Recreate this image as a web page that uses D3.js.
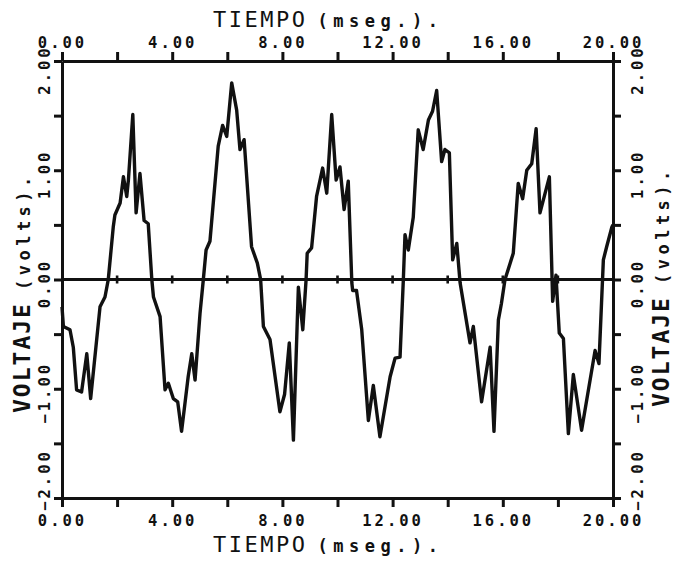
<!DOCTYPE html>
<html>
<head>
<meta charset="utf-8">
<script src="https://cdn.jsdelivr.net/npm/d3@7"></script>
<style>
  body { margin: 0; background: #fff; }
  svg { display: block; }
  text { font-family: "DejaVu Sans Mono", monospace; fill: #111; }
</style>
</head>
<body>
<svg id="chart" width="673" height="561"></svg>
<script>
// tiempo (ms) / voltaje (V)
const tiempo = [0, 0.05, 0.29, 0.41, 0.53, 0.71, 0.90, 1.04, 1.38, 1.56, 1.68, 1.86, 1.92, 2.11, 2.23, 2.35, 2.41, 2.57, 2.69, 2.83,
  2.98, 3.13, 3.26, 3.32, 3.56, 3.74, 3.86, 4.04, 4.20, 4.34, 4.58, 4.71, 4.83, 5.01, 5.13, 5.23, 5.37, 5.67, 5.83, 5.98,
  6.16, 6.34, 6.46, 6.61, 6.88, 7.09, 7.21, 7.31, 7.55, 7.91, 8.08, 8.25, 8.40, 8.58, 8.74, 8.86, 8.90, 9.06, 9.24, 9.46,
  9.61, 9.79, 9.95, 10.09, 10.24, 10.39, 10.52, 10.55, 10.69, 10.88, 11.12, 11.30, 11.54, 11.91, 12.09, 12.27, 12.39, 12.45, 12.57, 12.75,
  12.93, 13.11, 13.30, 13.45, 13.60, 13.78, 13.90, 14.06, 14.18, 14.33, 14.45, 14.81, 14.93, 15.23, 15.54, 15.68, 15.84, 15.95, 16.08, 16.38,
  16.56, 16.72, 16.87, 17.05, 17.21, 17.35, 17.69, 17.81, 17.93, 18.05, 18.20, 18.38, 18.56, 18.86, 19.35, 19.49, 19.65, 19.77, 19.96, 20];
const voltaje = [-0.25, -0.43, -0.46, -0.62, -1.01, -1.03, -0.68, -1.09, -0.25, -0.16, 0, 0.48, 0.59, 0.70, 0.94, 0.76, 0.91, 1.51, 0.61, 0.97,
  0.54, 0.51, 0, -0.16, -0.34, -1.01, -0.95, -1.09, -1.12, -1.39, -0.89, -0.68, -0.92, -0.31, 0, 0.27, 0.35, 1.22, 1.41, 1.31,
  1.80, 1.55, 1.19, 1.28, 0.30, 0.15, 0, -0.43, -0.55, -1.21, -1.05, -0.58, -1.47, -0.07, -0.46, 0, 0.24, 0.29, 0.76, 1.02,
  0.79, 1.51, 0.91, 1.03, 0.64, 0.90, -0.03, -0.10, -0.10, -0.46, -1.29, -0.97, -1.44, -0.89, -0.72, -0.71, 0, 0.41, 0.27, 0.57,
  1.37, 1.19, 1.46, 1.54, 1.73, 1.08, 1.19, 1.16, 0.18, 0.33, -0.03, -0.58, -0.43, -1.12, -0.62, -1.39, -0.37, -0.22, 0, 0.24,
  0.88, 0.74, 1.00, 1.06, 1.38, 0.61, 0.94, -0.20, 0.04, -0.49, -0.54, -1.41, -0.87, -1.38, -0.65, -0.77, 0.18, 0.30, 0.48, 0.50];

const xTicks = d3.range(0, 21, 2);
const xLabels = [0, 4, 8, 12, 16, 20];
const yTicks = d3.range(-2, 2.01, 0.5);
const yLabels = [-2, -1, 0, 1, 2];
const xTitle = "TIEMPO", xUnits = "(mseg.).";
const yTitle = "VOLTAJE", yUnits = "(volts).";

const svg = d3.select("#chart");
const fmt = d3.format(".2f");

const x = d3.scaleLinear().domain([0, 20]).range([62, 613]);
const y = d3.scaleLinear().domain([-2, 2]).range([498, 61]);

// frame = four axes
function styleAxis(g){
  g.selectAll("path, line").attr("stroke", "#111").attr("stroke-width", 3);
  g.selectAll("text").attr("font-size", 15.5).attr("font-weight", "bold")
    .attr("letter-spacing", 3).attr("fill", "#111");
}

svg.append("g").attr("transform", `translate(0,${y(2)})`)
  .call(d3.axisTop(x).tickValues(xTicks).tickSize(9).tickSizeOuter(0).tickPadding(4)
    .tickFormat(d => xLabels.includes(d) ? fmt(d) : ""))
  .call(styleAxis);

svg.append("g").attr("transform", `translate(0,${y(-2)})`)
  .call(d3.axisBottom(x).tickValues(xTicks).tickSize(9).tickSizeOuter(0).tickPadding(8)
    .tickFormat(d => xLabels.includes(d) ? fmt(d) : ""))
  .call(styleAxis);

svg.append("g").attr("transform", `translate(${x(0)},0)`)
  .call(d3.axisLeft(y).tickValues(yTicks).tickSize(8).tickSizeOuter(0).tickFormat(""))
  .call(styleAxis);

svg.append("g").attr("transform", `translate(${x(20)},0)`)
  .call(d3.axisRight(y).tickValues(yTicks).tickSize(8).tickSizeOuter(0).tickFormat(""))
  .call(styleAxis);

// rotated y tick labels on both sides
const labelY = v => Math.min(480, Math.max(70, y(v) + 4));
[50, 643].forEach(bx => {
  svg.append("g").selectAll("text").data(yLabels).join("text")
    .attr("transform", d => `translate(${bx},${labelY(d)}) rotate(-90)`)
    .attr("text-anchor", "middle")
    .attr("font-size", 15.5).attr("font-weight", "bold").attr("letter-spacing", 3)
    .text(d => fmt(d));
});

// zero line with small crossing ticks
svg.append("line")
  .attr("x1", x(0)).attr("x2", x(20)).attr("y1", y(0)).attr("y2", y(0))
  .attr("stroke", "#111").attr("stroke-width", 2.8);
svg.append("g").selectAll("line").data(xTicks.slice(1, -1)).join("line")
  .attr("x1", d => x(d)).attr("x2", d => x(d))
  .attr("y1", y(0) - 4).attr("y2", y(0) + 4)
  .attr("stroke", "#111").attr("stroke-width", 2.6);

// trace
const line = d3.line().x(d => x(d[0])).y(d => y(d[1]));
svg.append("path")
  .datum(d3.zip(tiempo, voltaje))
  .attr("d", line)
  .attr("fill", "none").attr("stroke", "#111").attr("stroke-width", 3.4)
  .attr("stroke-linejoin", "round");

// x titles
function xTitleText(baseline){
  const t = svg.append("text").attr("x", 213).attr("y", baseline);
  t.append("tspan").attr("font-size", 22).attr("letter-spacing", 2.5).text(xTitle);
  t.append("tspan").attr("dx", 10).attr("font-size", 17).attr("font-weight", "bold")
    .attr("letter-spacing", 5.5).text(xUnits);
}
xTitleText(27);
xTitleText(552);

// y titles
function yTitleText(bx, by){
  const t = svg.append("text").attr("transform", `translate(${bx},${by}) rotate(-90)`);
  t.append("tspan").attr("font-size", 23).attr("font-weight", "bold").attr("letter-spacing", 2).text(yTitle);
  t.append("tspan").attr("dx", 12).attr("font-size", 17).attr("font-weight", "bold")
    .attr("letter-spacing", 4.5).text(yUnits);
}
yTitleText(30, 413);
yTitleText(669, 407);
</script>
</body>
</html>
